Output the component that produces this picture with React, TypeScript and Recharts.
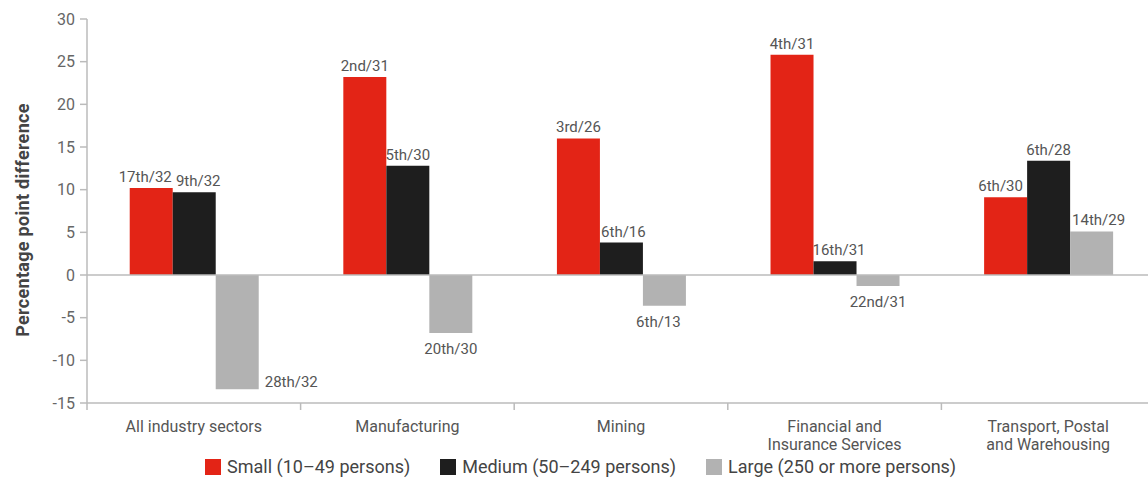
import React from 'react';
import { BarChart, Bar, XAxis, YAxis, ReferenceLine, LabelList, Legend } from 'recharts';

const sectors = [
  'All industry sectors',
  'Manufacturing',
  'Mining',
  'Financial and\nInsurance Services',
  'Transport, Postal\nand Warehousing',
];
const smallValues = [10.2, 23.2, 16.0, 25.8, 9.1];
const mediumValues = [9.7, 12.8, 3.8, 1.6, 13.4];
const largeValues = [-13.4, -6.8, -3.6, -1.3, 5.1];
const smallRanks = ['17th/32', '2nd/31', '3rd/26', '4th/31', '6th/30'];
const mediumRanks = ['9th/32', '5th/30', '6th/16', '16th/31', '6th/28'];
const largeRanks = ['28th/32', '20th/30', '6th/13', '22nd/31', '14th/29'];
const yTicks = [-15, -10, -5, 0, 5, 10, 15, 20, 25, 30];

const seriesInfo = [
  { key: 'small', name: 'Small (10–49 persons)', color: '#e32416' },
  { key: 'medium', name: 'Medium (50–249 persons)', color: '#1e1e1e' },
  { key: 'large', name: 'Large (250 or more persons)', color: '#b2b2b2' },
];

const data = sectors.map((sector, i) => ({
  sector,
  small: smallValues[i],
  medium: mediumValues[i],
  large: largeValues[i],
  smallRank: smallRanks[i],
  mediumRank: mediumRanks[i],
  largeRank: largeRanks[i],
}));

const FONT = 'Roboto, "DejaVu Sans", sans-serif';
const AXIS = '#bbbbbb';

// small sideways nudges so neighbouring rank labels don't collide
const nudges: Record<string, number[]> = {
  small: [-6, 0, 0, 0, -5],
  medium: [4, 0, 2, 4, 0],
  large: [0, 0, -6, 0, 7],
};

// labels above positive bars, below negative ones (first large bar: beside it)
const rankLabel = (series: string, values: number[]) => (props: any) => {
  const { x, y, width, height, value, index } = props;
  const top = Math.min(y, y + height);
  const bottom = Math.max(y, y + height);
  const cx = x + width / 2 + (nudges[series][index] || 0);
  const v = values[index];
  const style = { fontSize: 15, fill: '#555', fontFamily: FONT };
  if (v >= 0) {
    return <text x={cx} y={top - 6} textAnchor="middle" {...style}>{value}</text>;
  }
  if (series === 'large' && index === 0) {
    return <text x={x + width + 6} y={bottom - 2} textAnchor="start" {...style}>{value}</text>;
  }
  return <text x={cx} y={bottom + 21} textAnchor="middle" {...style}>{value}</text>;
};

const SectorTick = (props: any) => {
  const { x, y, payload, width, visibleTicksCount } = props;
  const half = payload.offset || width / (visibleTicksCount || 5) / 2;
  const lines = String(payload.value).split('\n');
  return (
    <g>
      <line x1={x - half} x2={x - half} y1={y} y2={y + 7} stroke={AXIS} strokeWidth={1.5} />
      <text x={x} y={y + 29} textAnchor="middle" fontSize={16} fill="#555" fontFamily={FONT}>
        {lines.map((l, i) => (
          <tspan key={i} x={x} dy={i === 0 ? 0 : 18}>{l}</tspan>
        ))}
      </text>
    </g>
  );
};

const renderLegend = () => (
  <div style={{ display: 'flex', alignItems: 'center', fontFamily: FONT, fontSize: 18, color: '#444', lineHeight: '22px' }}>
    {seriesInfo.map((s) => (
      <div key={s.key} style={{ display: 'flex', alignItems: 'center', marginRight: 30 }}>
        <span style={{ display: 'inline-block', width: 16, height: 16, background: s.color, marginRight: 6 }} />
        <span>{s.name}</span>
      </div>
    ))}
  </div>
);

export default function App() {
  return (
    <div style={{ position: 'absolute', left: 0, top: 0, width: 1148, height: 479, overflow: 'hidden', background: '#fff', fontFamily: FONT }}>
      <BarChart
        width={1170}
        height={479}
        data={data}
        margin={{ top: 19, right: 15, bottom: 0, left: 0 }}
        barCategoryGap="20%"
        barGap={0}
      >
        <XAxis
          dataKey="sector"
          height={76}
          interval={0}
          axisLine={{ stroke: AXIS, strokeWidth: 1.5 }}
          tickLine={false}
          tickSize={0}
          tickMargin={0}
          tick={<SectorTick />}
        />
        <YAxis
          width={87}
          domain={[-15, 30]}
          ticks={yTicks}
          interval={0}
          axisLine={{ stroke: AXIS, strokeWidth: 1.5 }}
          tickLine={{ stroke: AXIS, strokeWidth: 1.5 }}
          tickSize={7}
          tickMargin={5}
          tick={{ fontSize: 16, fill: '#666', fontFamily: FONT }}
          label={{
            content: () => (
              <text
                x={22}
                y={220}
                transform="rotate(-90, 22, 220)"
                textAnchor="middle"
                dominantBaseline="central"
                fontSize={18}
                fontWeight="bold"
                letterSpacing={0.3}
                fill="#444"
                fontFamily={FONT}
              >
                Percentage point difference
              </text>
            ),
          }}
        />
        <ReferenceLine y={0} stroke={AXIS} strokeWidth={1.5} />
        <Legend
          verticalAlign="middle"
          align="center"
          layout="horizontal"
          wrapperStyle={{ top: 456, left: 205, width: 900, height: 22 }}
          content={renderLegend}
        />
        <Bar dataKey="small" name={seriesInfo[0].name} fill={seriesInfo[0].color} isAnimationActive={false}>
          <LabelList dataKey="smallRank" content={rankLabel('small', smallValues)} />
        </Bar>
        <Bar dataKey="medium" name={seriesInfo[1].name} fill={seriesInfo[1].color} isAnimationActive={false}>
          <LabelList dataKey="mediumRank" content={rankLabel('medium', mediumValues)} />
        </Bar>
        <Bar dataKey="large" name={seriesInfo[2].name} fill={seriesInfo[2].color} isAnimationActive={false}>
          <LabelList dataKey="largeRank" content={rankLabel('large', largeValues)} />
        </Bar>
      </BarChart>
    </div>
  );
}
